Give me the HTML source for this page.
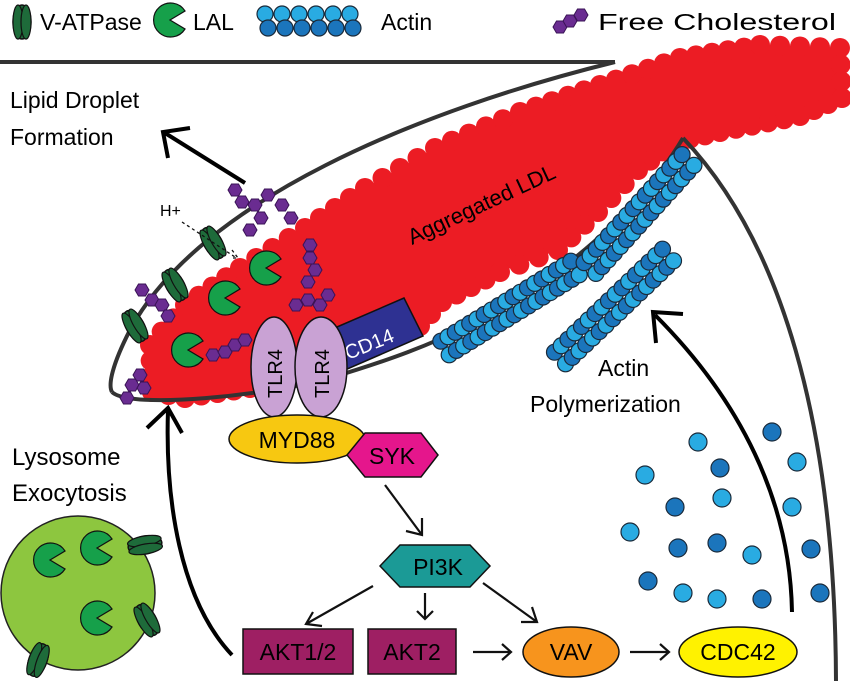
<!DOCTYPE html>
<html><head><meta charset="utf-8"><style>
html,body{margin:0;padding:0;background:#fff}
svg{display:block}
text{font-family:"Liberation Sans",Arial,sans-serif}
</style></head><body>
<svg id="s" width="850" height="681" viewBox="0 0 850 681" xmlns="http://www.w3.org/2000/svg">
<defs>
<g id="vat"><ellipse cx="0" cy="0" rx="9" ry="17" fill="#1e6b3a" stroke="#111" stroke-width="1.5"/><ellipse cx="-4" cy="0" rx="5" ry="17" fill="#1e6b3a" stroke="#111" stroke-width="1.2"/><ellipse cx="4" cy="0" rx="5" ry="17" fill="#1e6b3a" stroke="#111" stroke-width="1.2"/></g>
<path id="pac" d="M0,0 L15,-9 A17,17 0 1 0 15,9 Z" fill="#16a04a" stroke="#111" stroke-width="1.2"/>
<polygon id="hex" points="-7,0 -3.5,-6 3.5,-6 7,0 3.5,6 -3.5,6" fill="#6a2c91" stroke="#3a1356" stroke-width="1"/>
</defs>

<!-- legend -->
<use href="#vat" x="22" y="22"/>
<text x="40" y="30" font-size="23">V-ATPase</text>
<use href="#pac" x="170" y="20"/>
<text x="193" y="30" font-size="23">LAL</text>
<g id="legact"></g>
<text x="381" y="30" font-size="23">Actin</text>
<use href="#hex" x="560" y="27"/><use href="#hex" x="570" y="21"/><use href="#hex" x="581" y="15"/>
<text x="598" y="30" font-size="23" textLength="238" lengthAdjust="spacingAndGlyphs">Free Cholesterol</text>

<!-- red LDL -->
<g id="red" fill="#ec1c24">
<polygon points="152,392 150,345 185,305 240,268 305,228 365,188 435,148 520,112 600,85 680,58 760,45 840,48 842,98 800,116 720,132 675,142 638,170 598,212 558,250 500,272 442,302 420,326 350,348 300,368 250,388 185,398 152,392"/>
</g>

<!-- membrane -->
<g fill="none" stroke="#333" stroke-width="4">
<line x1="0" y1="62" x2="615" y2="62"/>
<path d="M615,62 C420,110 200,200 130,330 C112,365 108,385 112,392"/>
<path d="M112,392 C130,410 270,395 330,378 C390,360 430,345 470,325 C560,280 640,210 683,138"/>
<path d="M683,138 C780,240 835,420 836,681"/>
</g>

<g id="act"></g>

<!-- cholesterol & enzymes -->
<g>
<use href="#hex" x="235" y="190"/><use href="#hex" x="242" y="202"/><use href="#hex" x="255" y="205"/><use href="#hex" x="268" y="195"/><use href="#hex" x="282" y="205"/><use href="#hex" x="291" y="218"/><use href="#hex" x="261" y="218"/><use href="#hex" x="250" y="230"/>
<use href="#hex" x="310" y="245"/><use href="#hex" x="310" y="258"/><use href="#hex" x="315" y="270"/><use href="#hex" x="308" y="282"/>
<use href="#hex" x="296" y="305"/><use href="#hex" x="308" y="300"/><use href="#hex" x="320" y="305"/><use href="#hex" x="328" y="295"/>
<use href="#hex" x="213" y="355"/><use href="#hex" x="225" y="352"/><use href="#hex" x="235" y="345"/><use href="#hex" x="245" y="340"/>
<use href="#hex" x="142" y="290"/><use href="#hex" x="152" y="300"/><use href="#hex" x="162" y="305"/><use href="#hex" x="168" y="316"/>
<use href="#hex" x="140" y="375"/><use href="#hex" x="132" y="385"/><use href="#hex" x="127" y="398"/><use href="#hex" x="144" y="388"/>
<use href="#pac" x="266" y="268"/>
<use href="#pac" x="225" y="298"/>
<use href="#pac" x="188" y="350"/>
<g transform="translate(213,243) rotate(-30)"><use href="#vat"/></g>
<g transform="translate(175,285) rotate(-30)"><use href="#vat"/></g>
<g transform="translate(135,326) rotate(-30)"><use href="#vat"/></g>
<text x="160" y="216" font-size="16">H+</text>
<path d="M182,222 L235,257 M232,250 l6,8 -8,0" fill="none" stroke="#111" stroke-width="1.3" stroke-dasharray="3,3"/>
</g>

<text transform="translate(412,245) rotate(-25)" font-size="22">Aggregated LDL</text>

<!-- receptors -->
<polygon points="330,330 404,298 423,336 345,370" fill="#2e3192" stroke="#111" stroke-width="1.5"/>
<text transform="translate(348,360) rotate(-22)" font-size="20" fill="#fff">CD14</text>
<ellipse cx="274" cy="367" rx="23" ry="50" fill="#c9a2d4" stroke="#111" stroke-width="1.5"/>
<ellipse cx="321" cy="367" rx="26" ry="50" fill="#c9a2d4" stroke="#111" stroke-width="1.5"/>
<text transform="translate(282,398) rotate(-90)" font-size="20">TLR4</text>
<text transform="translate(329,398) rotate(-90)" font-size="20">TLR4</text>
<ellipse cx="297" cy="439" rx="68" ry="24" fill="#f7c811" stroke="#111" stroke-width="1.5"/>
<text x="297" y="448" font-size="23" text-anchor="middle">MYD88</text>
<polygon points="347,455 365,433 421,433 438,455 421,477 365,477" fill="#e5168c" stroke="#111" stroke-width="1.5"/>
<text x="392" y="464" font-size="23" text-anchor="middle">SYK</text>
<polygon points="380,566 400,545 470,545 490,566 470,587 400,587" fill="#1b9a96" stroke="#111" stroke-width="1.5"/>
<text x="438" y="575" font-size="23" text-anchor="middle">PI3K</text>
<rect x="243" y="629" width="110" height="45" fill="#9e1f63" stroke="#111" stroke-width="1.5"/>
<text x="298" y="660" font-size="23" text-anchor="middle">AKT1/2</text>
<rect x="368" y="629" width="88" height="45" fill="#9e1f63" stroke="#111" stroke-width="1.5"/>
<text x="412" y="660" font-size="23" text-anchor="middle">AKT2</text>
<ellipse cx="571" cy="652" rx="48" ry="25" fill="#f7941d" stroke="#111" stroke-width="1.5"/>
<text x="571" y="660" font-size="23" text-anchor="middle">VAV</text>
<ellipse cx="738" cy="652" rx="59" ry="25" fill="#fff200" stroke="#111" stroke-width="1.5"/>
<text x="738" y="660" font-size="23" text-anchor="middle">CDC42</text>

<!-- small arrows -->
<g fill="none" stroke="#111" stroke-width="2.2">
<path d="M385,485 L422,535 M406,531 L422,535 L422,518"/>
<path d="M373,586 L306,624 M313,612 L306,624 L322,626"/>
<path d="M425,593 L425,618 M417,611 L425,619 L433,611"/>
<path d="M483,583 L537,622 M521,622 L537,622 L532,607"/>
<path d="M473,652 L510,652 M502,644 L511,652 L502,660"/>
<path d="M630,652 L668,652 M660,644 L669,652 L660,660"/>
</g>

<!-- big arrows -->
<g fill="none" stroke="#000" stroke-width="4">
<path d="M245,183 L165,133 M168,158 L163,132 L190,128"/>
<path d="M232,655 C180,600 165,500 168,410 M147,428 L168,408 L182,433"/>
<path d="M792,612 C790,500 740,400 655,315 M656,343 L653,312 L683,314"/>
</g>

<!-- lysosome -->
<circle cx="78" cy="593" r="77" fill="#8dc63f" stroke="#222" stroke-width="1.5"/>
<use href="#pac" x="50" y="560"/>
<use href="#pac" x="97" y="548"/>
<use href="#pac" x="97" y="618"/>
<g transform="translate(145,545) rotate(80)"><use href="#vat"/></g>
<g transform="translate(147,620) rotate(-30)"><use href="#vat"/></g>
<g transform="translate(38,660) rotate(20)"><use href="#vat"/></g>

<g id="dots"></g>

<text x="10" y="108" font-size="23">Lipid Droplet</text>
<text x="10" y="145" font-size="23">Formation</text>
<text x="12" y="465" font-size="24">Lysosome</text>
<text x="12" y="501" font-size="24">Exocytosis</text>
<text x="598" y="376" font-size="23">Actin</text>
<text x="530" y="412" font-size="23">Polymerization</text>
</svg>
<script>
var NS="http://www.w3.org/2000/svg";
function c(par,x,y,r,f,sw){var e=document.createElementNS(NS,"circle");e.setAttribute("cx",x);e.setAttribute("cy",y);e.setAttribute("r",r);e.setAttribute("fill",f);e.setAttribute("stroke",sw||"#1a2a3a");e.setAttribute("stroke-width","1.2");par.appendChild(e);}
var red=document.getElementById("red");
var pts=[[152,392],[150,345],[185,305],[240,268],[305,228],[365,188],[435,148],[520,112],[600,85],[680,58],[760,45],[840,48],[842,98],[800,116],[720,132],[675,142],[638,170],[598,212],[558,250],[500,272],[442,302],[420,326],[350,348],[300,368],[250,388],[185,398],[152,392]];
for(var i=0;i<pts.length-1;i++){var a=pts[i],b=pts[i+1];var d=Math.hypot(b[0]-a[0],b[1]-a[1]);var n=Math.max(1,Math.round(d/18));for(var k=0;k<n;k++){var t=k/n;c(red,a[0]+(b[0]-a[0])*t,a[1]+(b[1]-a[1])*t,10,"#ec1c24","none");}}
var act=document.getElementById("act");
function fil(x1,y1,x2,y2,n){var dx=(x2-x1)/n,dy=(y2-y1)/n;var L=Math.hypot(dx,dy);var px=-dy/L*8,py=dx/L*8;for(var i=0;i<=n;i++){var x=x1+dx*i,y=y1+dy*i;c(act,x+px,y+py,8,i%2?"#1b75bc":"#29abe2");c(act,x-px,y-py,8,i%2?"#29abe2":"#1b75bc");}}
fil(445,348,575,268,18);fil(590,268,688,160,16);fil(560,358,668,255,16);
var la=document.getElementById("legact");
for(var i=0;i<6;i++){c(la,265+i*17,14,8,"#29abe2");c(la,268+i*17,28,8,"#1b75bc");}
var dg=document.getElementById("dots");
var D=[[698,442,0],[772,432,1],[797,462,0],[720,468,1],[645,475,0],[722,498,0],[675,507,1],[792,507,0],[630,532,0],[678,548,1],[717,543,1],[752,555,0],[811,549,1],[648,581,1],[683,593,0],[717,599,0],[762,599,1],[820,593,1]];
D.forEach(function(p){c(dg,p[0],p[1],9,p[2]?"#1b75bc":"#29abe2");});
</script>
</body></html>
